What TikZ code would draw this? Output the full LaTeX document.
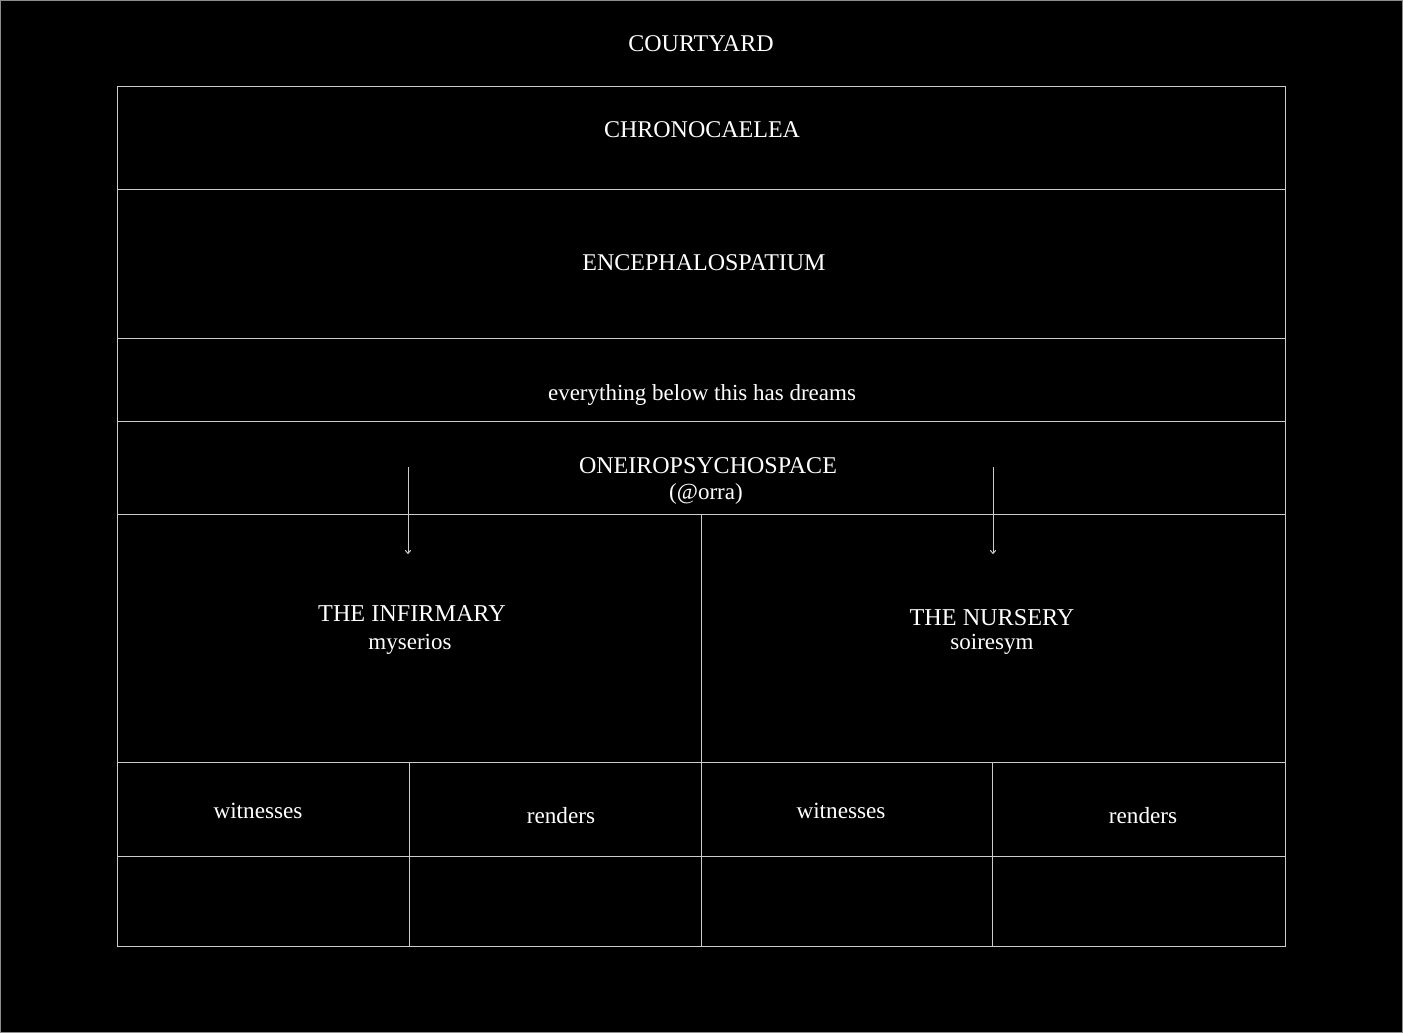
\documentclass[tikz,border=0pt]{standalone}
\usepackage{fontspec}
\setmainfont{Liberation Serif}
\usetikzlibrary{arrows.meta}
\begin{document}
\begin{tikzpicture}[x=0.5pt,y=-0.5pt,
  grid/.style={draw=black!20,line width=0.5pt},
  caps/.style={text=white,font=\fontsize{12pt}{14pt}\selectfont,align=center,inner sep=0pt},
  lbl/.style={text=white,font=\fontsize{11.5pt}{14pt}\selectfont,align=center,inner sep=0pt},
  big/.style={text=white,font=\fontsize{12.1pt}{14pt}\selectfont,align=center,inner sep=0pt},
  small/.style={text=white,font=\fontsize{11.6pt}{13pt}\selectfont,inner sep=0pt},
  arr/.style={draw=black!20,line width=0.5pt,-{To[length=2pt,width=3pt]}}]
\fill[black] (0,0) rectangle (1403,1033);
\useasboundingbox (0,0) rectangle (1403,1033);
\draw[black!45,line width=0.5pt] (0.5,0.5) rectangle (1402.5,1032.5);
% grid
\draw[grid] (117,86) rectangle (1285,946);
\foreach \y in {189,338,421,514,762,856} \draw[grid] (117,\y) -- (1285,\y);
\draw[grid] (701,514) -- (701,946);
\draw[grid] (409,762) -- (409,946);
\draw[grid] (992,762) -- (992,946);
% texts
\node[caps] (court) at (701,44) {COURTYARD};
\node[caps] (chrono) at (702,130) {CHRONOCAELEA};
\node[caps] (enceph) at (704,263) {ENCEPHALOSPATIUM};
\node[lbl] (dreams) at (702,395) {everything below this has dreams};
\node[caps] (oneiro) at (708,466) {ONEIROPSYCHOSPACE};
\node[lbl] (orra) at (706,494) {(@orra)};
\node[big] (infirm) at (412,614) {THE INFIRMARY};
\node[lbl] (myser) at (410,644) {myserios};
\node[big] (nurs) at (992,618) {THE NURSERY};
\node[lbl] (soir) at (992,644) {soiresym};
\node[small] (w1) at (258,811) {witnesses};
\node[small] (r1) at (561,816) {renders};
\node[small] (w2) at (841,811) {witnesses};
\node[small] (r2) at (1143,816) {renders};
% arrows
\coordinate (a1s) at (408,467);
\coordinate (a1e) at (408,554);
\coordinate (a2s) at (993,467);
\coordinate (a2e) at (993,554);
\draw[arr] (a1s) -- (a1e);
\draw[arr] (a2s) -- (a2e);
\end{tikzpicture}
\end{document}
